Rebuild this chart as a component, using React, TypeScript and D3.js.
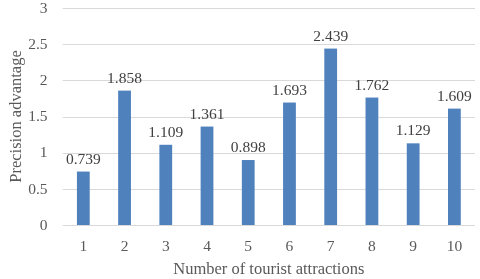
import React, { useEffect, useRef } from 'react';
import * as d3 from 'd3';

const categories = ['1', '2', '3', '4', '5', '6', '7', '8', '9', '10'];
const values = [0.739, 1.858, 1.109, 1.361, 0.898, 1.693, 2.439, 1.762, 1.129, 1.609];
const yTicks = [0, 0.5, 1, 1.5, 2, 2.5, 3];

const App: React.FC = () => {
  const svgRef = useRef<SVGSVGElement>(null);

  useEffect(() => {
    const svg = d3.select(svgRef.current);
    svg.selectAll('*').remove();

    const W = 480;
    const H = 279;
    const left = 62.7;
    const right = 475;
    const top = 8;
    const bottom = 225;
    const font = '"Liberation Serif", "Times New Roman", serif';
    const textColor = '#595959';

    const x = d3.scaleBand<string>().domain(categories).range([left, right]).padding(0);
    const y = d3.scaleLinear().domain([0, 3]).range([bottom, top]);
    const barW = x.bandwidth() * 0.31;

    svg.attr('width', W).attr('height', H).style('font-family', font);

    // gridlines
    svg.append('g')
      .selectAll('line')
      .data(yTicks)
      .enter()
      .append('line')
      .attr('x1', left)
      .attr('x2', right)
      .attr('y1', d => Math.round(y(d)) + 0.5)
      .attr('y2', d => Math.round(y(d)) + 0.5)
      .attr('stroke', '#d9d9d9')
      .attr('stroke-width', 1);

    // y tick labels
    svg.append('g')
      .selectAll('text')
      .data(yTicks)
      .enter()
      .append('text')
      .attr('x', 47.5)
      .attr('y', d => y(d) + 4.8)
      .attr('text-anchor', 'end')
      .style('font-size', '15.5px')
      .style('fill', textColor)
      .text(d => String(d));

    // bars
    svg.append('g')
      .selectAll('rect')
      .data(values)
      .enter()
      .append('rect')
      .attr('x', (d, i) => (x(categories[i]) as number) + x.bandwidth() / 2 - barW / 2)
      .attr('y', d => y(d))
      .attr('width', barW)
      .attr('height', d => bottom - y(d))
      .attr('fill', '#4f81bd');

    // value labels
    svg.append('g')
      .selectAll('text')
      .data(values)
      .enter()
      .append('text')
      .attr('x', (d, i) => (x(categories[i]) as number) + x.bandwidth() / 2)
      .attr('y', d => y(d) - 8)
      .attr('text-anchor', 'middle')
      .style('font-size', '15.5px')
      .style('fill', '#404040')
      .text(d => d.toFixed(3));

    // x tick labels
    svg.append('g')
      .selectAll('text')
      .data(categories)
      .enter()
      .append('text')
      .attr('x', d => (x(d) as number) + x.bandwidth() / 2)
      .attr('y', 250.5)
      .attr('text-anchor', 'middle')
      .style('font-size', '15.5px')
      .style('fill', textColor)
      .text(d => d);

    // axis titles
    svg.append('text')
      .attr('x', (left + right) / 2)
      .attr('y', 274)
      .attr('text-anchor', 'middle')
      .style('font-size', '16.5px')
      .style('fill', textColor)
      .text('Number of tourist attractions');

    svg.append('text')
      .attr('transform', `translate(21,116.5) rotate(-90)`)
      .attr('text-anchor', 'middle')
      .style('font-size', '16.5px')
      .style('fill', textColor)
      .text('Precision advantage');
  }, []);

  return (
    <div style={{ position: 'fixed', left: 0, top: 0 }}>
      <svg ref={svgRef}></svg>
    </div>
  );
};

export default App;
